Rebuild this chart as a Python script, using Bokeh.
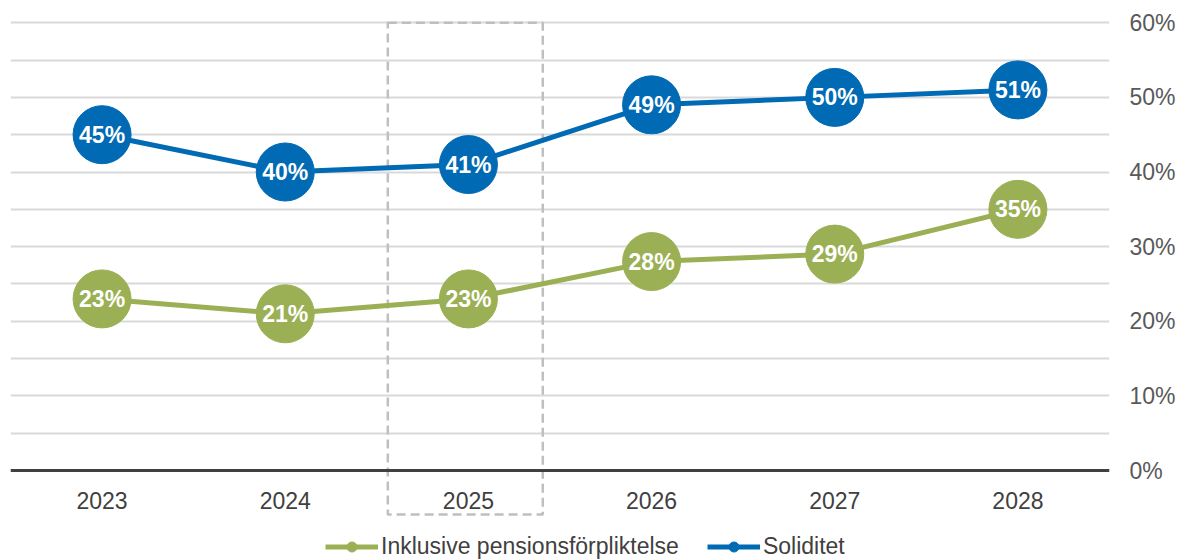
from bokeh.plotting import figure
from bokeh.models import (ColumnDataSource, FixedTicker, NumeralTickFormatter, Span,
                          Legend, LegendItem, Range1d, FactorRange)
from bokeh.transform import dodge
from bokeh.core.properties import value
from bokeh.embed import file_html
from bokeh.resources import INLINE

# ---- data ----
years = ["2023", "2024", "2025", "2026", "2027", "2028"]
soliditet = [0.45, 0.40, 0.41, 0.49, 0.50, 0.51]
inklusive = [0.23, 0.21, 0.23, 0.28, 0.29, 0.35]
series_labels = ["Inklusive pensionsförpliktelse", "Soliditet"]
y_ticks = [0.0, 0.1, 0.2, 0.3, 0.4, 0.5, 0.6]
grid_ticks = [0.05, 0.1, 0.15, 0.2, 0.25, 0.3, 0.35, 0.4, 0.45, 0.5, 0.55, 0.6]
highlight_year = ["2025"]

BLUE = "#006AB4"
GREEN = "#9BB055"
FONT = "Liberation Sans"

p = figure(width=1180, height=560, output_backend="svg", toolbar_location=None,
           x_range=FactorRange(*years), y_range=Range1d(-0.1205, 0.603),
           x_axis_location=None, y_axis_location="right",
           min_border_left=10, min_border_right=71, min_border_top=20, min_border_bottom=0)
p.outline_line_color = None
p.background_fill_color = "white"
p.border_fill_color = "white"

# axis
yax = p.yaxis[0]
yax.ticker = FixedTicker(ticks=y_ticks)
yax.formatter = NumeralTickFormatter(format="0%")
yax.axis_line_color = None
yax.major_tick_line_color = None
yax.minor_tick_line_color = None
yax.major_tick_out = 0
yax.major_tick_in = 0
yax.minor_tick_out = 0
yax.major_label_standoff = 20
yax.major_label_text_font = FONT
yax.major_label_text_font_size = "23px"
yax.major_label_text_color = "#595959"

# grid
p.xgrid.visible = False
p.ygrid[0].ticker = FixedTicker(ticks=grid_ticks)
p.ygrid[0].grid_line_color = "#D9D9D9"
p.ygrid[0].grid_line_width = 2

# highlight box
hsrc = ColumnDataSource(dict(x=highlight_year))
p.quad(left=dodge("x", -0.44, range=p.x_range), right=dodge("x", 0.406, range=p.x_range),
       top=0.6, bottom=-0.059, source=hsrc, fill_alpha=0,
       line_color="#BFBFBF", line_width=2.5, line_dash="9 5")

# baseline
p.add_layout(Span(location=0, dimension="width", line_color="#404040", line_width=3))

# year labels
p.text(x=years, y=[-0.0395] * len(years), text=years, text_align="center",
       text_baseline="middle", text_font=value(FONT), text_font_size="23px",
       text_color="#404040")

src = ColumnDataSource(dict(
    x=years, sol=soliditet, ink=inklusive,
    sol_lbl=[f"{round(v*100)}%" for v in soliditet],
    ink_lbl=[f"{round(v*100)}%" for v in inklusive],
))

items = []
for col, color, label in (("ink", GREEN, series_labels[0]), ("sol", BLUE, series_labels[1])):
    lr = p.line("x", col, source=src, line_color=color, line_width=5)
    dr = p.scatter("x", col, source=src, size=58, fill_color=color, line_color=color)
    p.text("x", col, text=col + "_lbl", source=src, text_align="center",
           text_baseline="middle", text_color="white", text_font=value(FONT),
           text_font_size="23px", text_font_style="bold")
    items.append(LegendItem(label=label, renderers=[lr, dr]))

legend = Legend(items=items, orientation="horizontal", location=(315, 0),
                background_fill_alpha=0, border_line_alpha=0, padding=0, margin=0,
                spacing=28, glyph_width=53, glyph_height=25, label_height=24,
                label_standoff=3, label_text_font=FONT, label_text_font_size="23px",
                label_text_color="#404040")
p.add_layout(legend, "center")

open("out.html", "w").write(file_html(p, INLINE))
